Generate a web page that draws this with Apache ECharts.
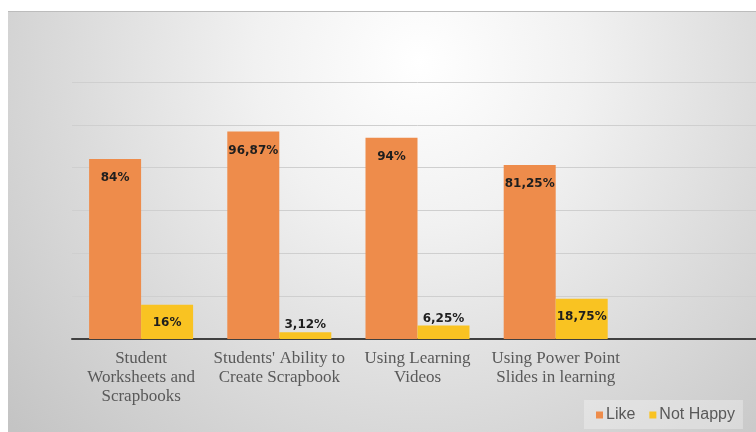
<!DOCTYPE html>
<html>
<head>
<meta charset="utf-8">
<script src="https://cdn.jsdelivr.net/npm/echarts@6/dist/echarts.min.js"></script>
<style>
  html, body { margin: 0; padding: 0; background: #ffffff; overflow: hidden; }
  /* the plot runs on past the right edge of the window */
  #chart { width: 770px; height: 432px; }
</style>
</head>
<body>
<div id="chart"></div>
<script>
// Activities rated by students (percent)
const categories = [
  'Student\nWorksheets and\nScrapbooks',
  "Students' Ability to\nCreate Scrapbook",
  'Using Learning\nVideos',
  'Using Power Point\nSlides in learning',
  ''
];
const seriesNames = ['Like', 'Not Happy'];
const likeValues = [84, 96.87, 94, 81.25];
const notHappyValues = [16, 3.12, 6.25, 18.75];

const ORANGE = '#EE8C4B';
const YELLOW = '#F9C322';

// Percent label with a decimal comma
function pct(v) {
  return String(v).replace('.', ',') + '%';
}

// Short bars carry their label above the bar, taller ones inside the top
function toItems(values) {
  return values.map(function (v) {
    if (v < 10) {
      return { value: v, label: { position: 'top', distance: 1 } };
    }
    return { value: v };
  });
}

function labelStyle(distance) {
  return {
    show: true,
    position: 'insideTop',
    distance: distance,
    fontFamily: 'DejaVu Sans',
    fontWeight: 'bold',
    fontSize: 12,
    color: '#1e1e1e',
    formatter: function (p) { return pct(p.value); }
  };
}

const chart = echarts.init(document.getElementById('chart'), null, { renderer: 'canvas' });

chart.setOption({
  animation: false,
  backgroundColor: '#ffffff',
  graphic: [
    {
      type: 'rect',
      z: -10,
      silent: true,
      shape: { x: 8, y: 11, width: 762, height: 421 },
      style: {
        fill: new echarts.graphic.RadialGradient(0.54, 0.12, 1.3, [
          { offset: 0, color: '#ffffff' },
          { offset: 0.3, color: '#f1f1f1' },
          { offset: 0.65, color: '#dadada' },
          { offset: 1, color: '#c4c4c4' }
        ])
      }
    },
    {
      type: 'line',
      z: -9,
      silent: true,
      shape: { x1: 8, y1: 11.5, x2: 770, y2: 11.5 },
      style: { stroke: '#bcbcbc', lineWidth: 1 }
    }
  ],
  grid: { left: 72, top: 82, width: 691, height: 257, containLabel: false },
  legend: {
    data: seriesNames,
    left: 584,
    top: 400,
    padding: [7, 8, 6, 12],
    backgroundColor: 'rgba(255,255,255,0.3)',
    icon: 'rect',
    itemWidth: 7,
    itemHeight: 7,
    itemGap: 14,
    textStyle: { fontFamily: 'Liberation Sans', fontSize: 16, color: '#595959', padding: [0, 0, 0, -2] }
  },
  xAxis: {
    type: 'category',
    data: categories,
    axisLine: { show: true, lineStyle: { color: '#404040', width: 2 } },
    axisTick: { show: false },
    axisLabel: {
      interval: 0,
      margin: 10,
      fontFamily: 'Liberation Serif',
      fontSize: 17,
      lineHeight: 19,
      color: '#595959',
      align: 'center'
    }
  },
  yAxis: {
    type: 'value',
    min: 0,
    max: 120,
    interval: 20,
    axisLine: { show: false },
    axisTick: { show: false },
    axisLabel: { show: false },
    splitLine: { show: true, lineStyle: { color: '#cfcfcf', width: 1 } }
  },
  series: [
    {
      name: seriesNames[0],
      type: 'bar',
      data: toItems(likeValues),
      barWidth: 52,
      barGap: '0%',
      itemStyle: { color: ORANGE },
      label: labelStyle(13)
    },
    {
      name: seriesNames[1],
      type: 'bar',
      data: toItems(notHappyValues),
      barWidth: 52,
      barGap: '0%',
      itemStyle: { color: YELLOW },
      label: labelStyle(12)
    }
  ]
});
</script>
</body>
</html>
